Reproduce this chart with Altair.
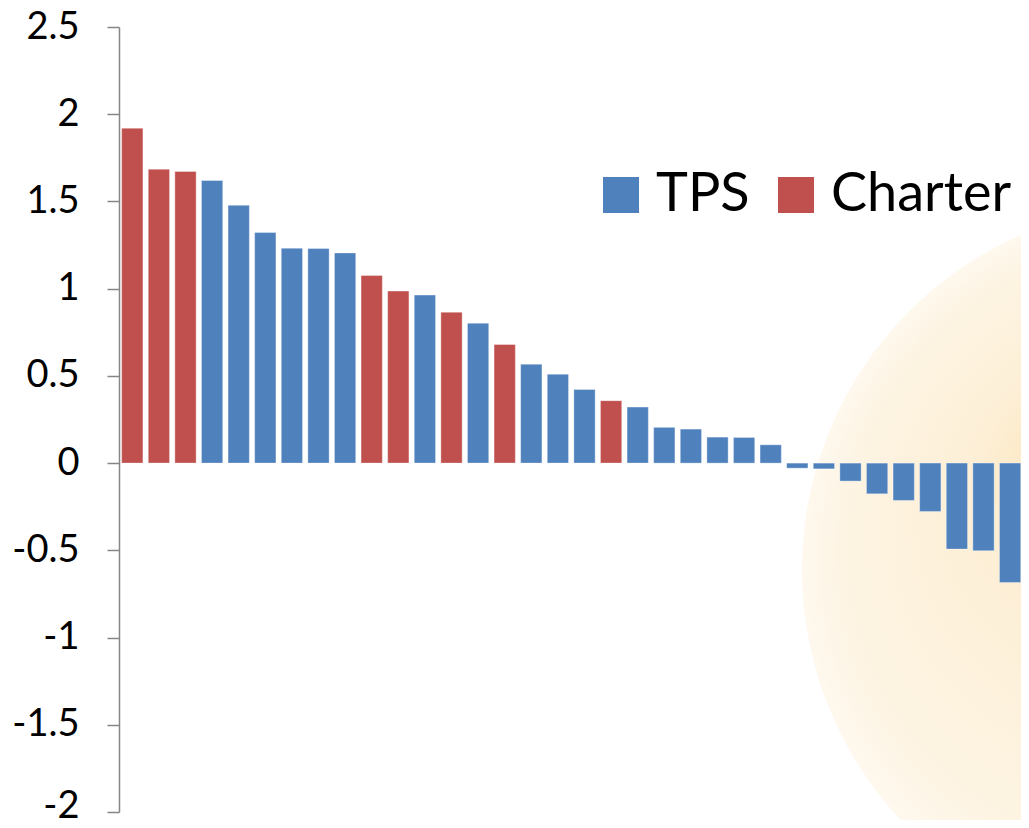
import altair as alt
import pandas as pd

values = [1.92, 1.685, 1.672, 1.62, 1.478, 1.322, 1.232, 1.23, 1.205, 1.075,
          0.986, 0.963, 0.865, 0.802, 0.68, 0.567, 0.51, 0.422, 0.358, 0.321,
          0.205, 0.195, 0.149, 0.147, 0.105, -0.029, -0.033, -0.103, -0.176,
          -0.214, -0.277, -0.493, -0.502, -0.684, -0.688]
groups = ["Charter", "Charter", "Charter", "TPS", "TPS", "TPS", "TPS", "TPS",
          "TPS", "Charter", "Charter", "TPS", "Charter", "TPS", "Charter",
          "TPS", "TPS", "TPS", "Charter", "TPS", "TPS", "TPS", "TPS", "TPS",
          "TPS", "TPS", "TPS", "TPS", "TPS", "TPS", "TPS", "TPS", "TPS",
          "TPS", "TPS"]
series_names = ["TPS", "Charter"]
series_colors = ["#4f81bd", "#c0504d"]
y_ticks = [-2, -1.5, -1, -0.5, 0, 0.5, 1, 1.5, 2, 2.5]

df = pd.DataFrame({"idx": list(range(1, len(values) + 1)),
                   "value": values, "group": groups})

FONT = "Lato"

glow = alt.Chart(pd.DataFrame({"k": [0]})).mark_circle(
    opacity=1,
    strokeWidth=0,
    color={
        "gradient": "radial",
        "x1": 0.36, "y1": 0.33, "r1": 0,
        "x2": 0.5, "y2": 0.5, "r2": 0.5,
        "stops": [
            {"offset": 0, "color": "#fde6bd"},
            {"offset": 0.35, "color": "#fdefd6"},
            {"offset": 0.85, "color": "#fdf4e3"},
            {"offset": 1, "color": "#fef8ee"},
        ],
    },
).encode(
    x=alt.value(1049),
    y=alt.value(543),
    size=alt.value(535800),
)

bars = alt.Chart(df).mark_bar(
    stroke="#ffffff", strokeWidth=1, strokeOpacity=0.35
).encode(
    x=alt.X("idx:O", axis=None,
            scale=alt.Scale(range=[0, 931], paddingInner=0.2, paddingOuter=0.1)),
    y=alt.Y("value:Q",
            scale=alt.Scale(domain=[-2, 2.5], nice=False, zero=False),
            axis=alt.Axis(values=y_ticks, title=None, grid=False,
                          labelExpr="datum.value + ''",
                          labelOffset={"expr": "datum.value == -2 ? -6 : 0"},
                          labelFont=FONT, labelFontSize=38, labelColor="#000000",
                          labelPadding=28, tickSize=12, tickColor="#868686",
                          tickWidth=1.5, domainColor="#868686", domainWidth=1.5,
                          labelFlush=False, labelOverlap=False)),
    color=alt.Color("group:N",
                    scale=alt.Scale(domain=series_names, range=series_colors),
                    legend=alt.Legend(title=None, orient="none", direction="horizontal",
                                      legendX=475, legendY=141, padding=0,
                                      symbolType="square", symbolSize=1296,
                                      symbolStrokeWidth=0, symbolOpacity=1,
                                      labelFont=FONT, labelFontSize=54,
                                      labelColor="#000000", labelOffset=8,
                                      columnPadding=19, labelLimit=400)),
)

chart = alt.layer(glow, bars).properties(
    width=902, height=785,
    autosize=alt.AutoSizeParams(type="none"),
    padding={"left": 111, "top": 19, "right": 0, "bottom": 8},
    background="#ffffff",
).configure_view(strokeWidth=0)

chart.save("out.html", embed_options={"renderer": "svg", "actions": False})
